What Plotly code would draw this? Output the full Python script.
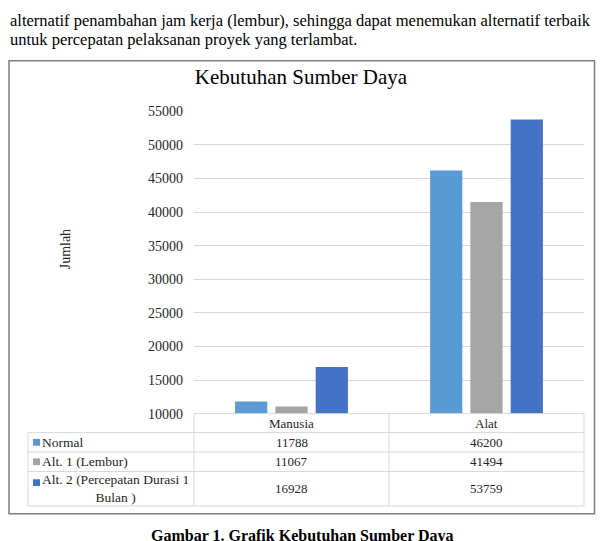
import plotly.graph_objects as go

# data
categories = ["Manusia", "Alat"]
series_names = ["Normal", "Alt. 1 (Lembur)", "Alt. 2 (Percepatan Durasi 1<br>Bulan )"]
normal = [11788, 46200]
lembur = [11067, 41494]
percepatan = [16928, 53759]
y_ticks = [10000, 15000, 20000, 25000, 30000, 35000, 40000, 45000, 50000, 55000]

colors = ["#5B9BD5", "#A5A5A5", "#4472C4"]
series = [normal, lembur, percepatan]

W, H = 604, 541
OFF = 8  # page body margin, positions below are given in page pixels
SERIF = "Liberation Serif, Times New Roman, serif"
GRID = "#D9D9D9"
TXT = "#262626"

plot_l, plot_r, plot_t, plot_b = 194, 584, 107, 418
tab_l = 28
row_edges = [418, 437.5, 457.5, 477.5, 513]


def px(x):
    return (x - OFF) / W


def py(y):
    return (H - (y - OFF)) / H


def note(text, x, y, size=13, xanchor="center", color=TXT, **kw):
    return dict(text=text, x=x, y=y, xref=kw.pop("xref", "paper"), yref="paper",
                xanchor=xanchor, yanchor="middle", showarrow=False,
                font=dict(family=SERIF, size=size, color=color), **kw)


def hline(x0, x1, y, color=GRID, width=1):
    return dict(type="line", xref="paper", yref="paper", x0=px(x0), x1=px(x1),
                y0=py(y), y1=py(y), line=dict(color=color, width=width))


def vline(x, y0, y1, color=GRID, width=1):
    return dict(type="line", xref="paper", yref="paper", x0=px(x), x1=px(x),
                y0=py(y0), y1=py(y1), line=dict(color=color, width=width))


fig = go.Figure()
for name, vals, col in zip(series_names, series, colors):
    fig.add_trace(go.Bar(x=categories, y=vals, name=name, marker_color=col,
                         marker_line_width=0))

shapes = []
# outer chart frame
shapes.append(dict(type="rect", xref="paper", yref="paper",
                   x0=px(9), x1=px(594.5), y0=py(521), y1=py(55),
                   line=dict(color="#7F7F7F", width=1.5)))
# data table grid
for i, ry in enumerate(row_edges):
    shapes.append(hline(plot_l if i == 0 else tab_l, plot_r, ry))
for vx in [plot_l, (plot_l + plot_r) / 2, plot_r]:
    shapes.append(vline(vx, row_edges[0], row_edges[-1]))
shapes.append(vline(tab_l, row_edges[1], row_edges[-1]))

annotations = []
# header row (categories)
hc = (row_edges[0] + row_edges[1]) / 2
for c in categories:
    annotations.append(note(c, c, py(hc), xref="x"))
# data rows with legend keys
for i, (name, vals, col) in enumerate(zip(series_names, series, colors)):
    cy = (row_edges[i + 1] + row_edges[i + 2]) / 2
    key_y = (row_edges[i + 1] + 11.5) if "<br>" in name else cy
    shapes.append(dict(type="rect", xref="paper", yref="paper",
                       x0=px(33), x1=px(40), y0=py(key_y + 3.5), y1=py(key_y - 3.5),
                       fillcolor=col, line_width=0))
    annotations.append(note(name, px(40), py(cy), size=13.5, xanchor="left", align="center"))
    for c, v in zip(categories, vals):
        annotations.append(note(str(v), c, py(cy), xref="x"))

# axis title
annotations.append(note("Jumlah", px(65), py(249), size=14, textangle=-90))
# surrounding document text
annotations.append(note("alternatif penambahan jam kerja (lembur), sehingga dapat menemukan alternatif terbaik",
                        px(8), py(14), size=16.5, xanchor="left", color="black"))
annotations.append(note("untuk percepatan pelaksanan proyek yang terlambat.",
                        px(8), py(33), size=16.5, xanchor="left", color="black"))
annotations.append(note("<b>Gambar 1. Grafik Kebutuhan Sumber Daya</b>",
                        px(302), py(544), size=16, color="black"))

fig.update_layout(
    width=W, height=H,
    margin=dict(l=0, r=0, t=0, b=0),
    paper_bgcolor="white", plot_bgcolor="white",
    showlegend=False,
    barmode="group", bargap=0.38, bargroupgap=0.2,
    title=dict(text="Kebutuhan Sumber Daya", x=px(301), xanchor="center",
               y=py(77), yanchor="middle",
               font=dict(family=SERIF, size=21, color="#000000")),
    xaxis=dict(domain=[px(plot_l), px(plot_r)], range=[-0.5, 1.5],
               showticklabels=False, showgrid=False, zeroline=False),
    yaxis=dict(domain=[py(plot_b), py(plot_t)], range=[10000, 55000],
               tickvals=y_ticks, tickformat="d", showgrid=True, gridcolor=GRID, gridwidth=1,
               zeroline=False, ticklabelstandoff=10,
               tickfont=dict(family=SERIF, size=14, color=TXT)),
    shapes=shapes, annotations=annotations,
)

fig.write_html("out.html")
